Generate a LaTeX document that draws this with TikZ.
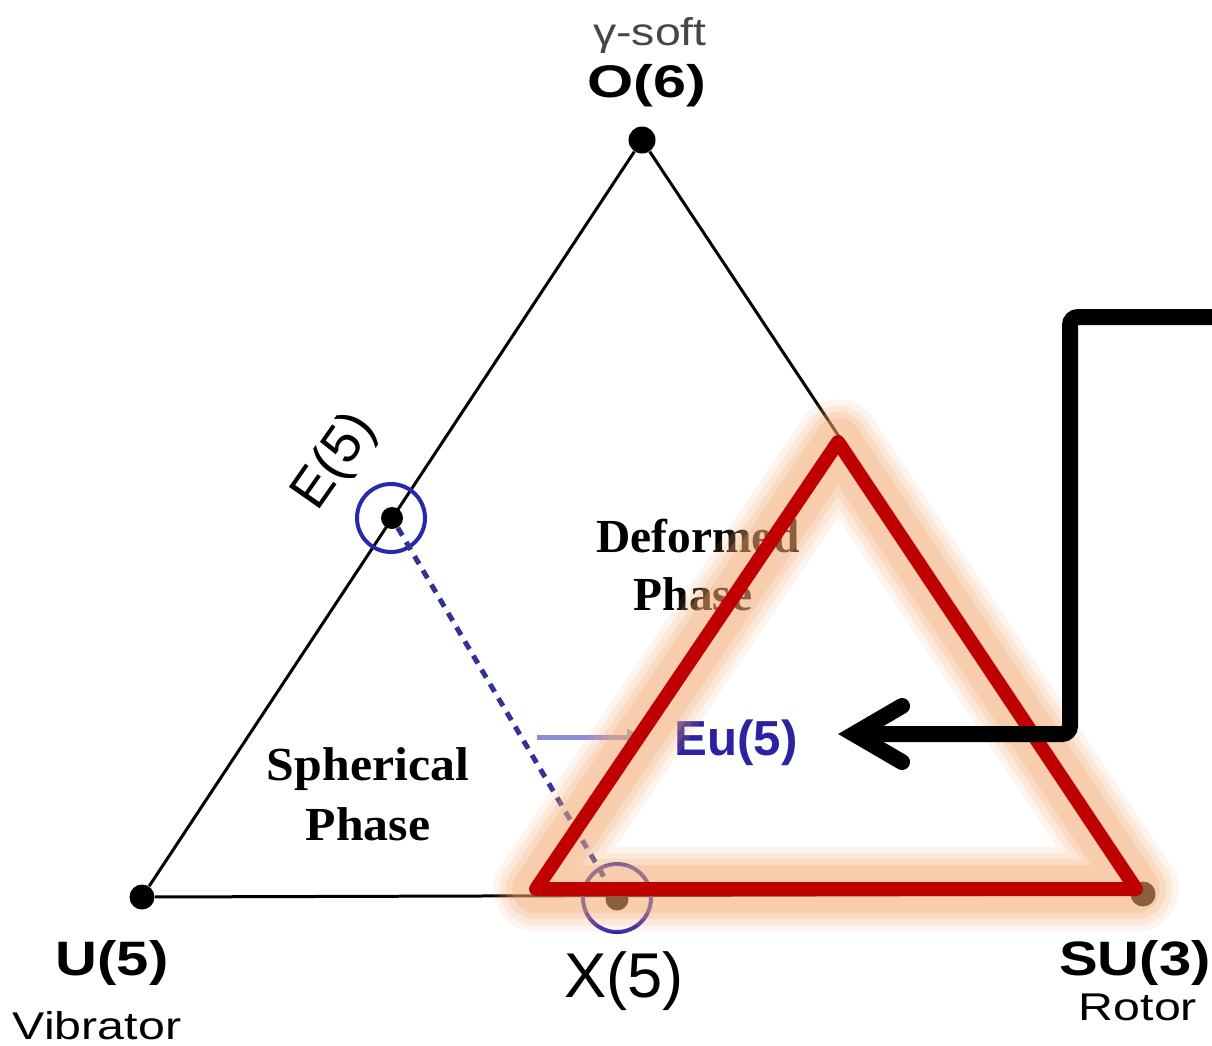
\documentclass[tikz,border=0pt]{standalone}
\usepackage{fontspec}
\setmainfont{Liberation Sans}
\newfontfamily\serifb{Liberation Serif}
\usetikzlibrary{arrows.meta}
\definecolor{cblue}{RGB}{40,40,170}
\definecolor{ctext}{RGB}{45,35,160}
\definecolor{cdash}{RGB}{50,50,150}
\definecolor{clight}{RGB}{140,140,215}
\definecolor{cred}{RGB}{192,0,0}
\definecolor{cglow}{RGB}{246,170,115}
\definecolor{cgray}{RGB}{70,70,70}
\tikzset{
  dotnode/.style={circle, fill=black, inner sep=0pt, minimum size=#1},
  dotnode/.default=0.54cm,
  ringnode/.style={circle, draw=cblue, line width=0.08cm, inner sep=0pt, minimum size=1.36cm},
  triline/.style={line width=0.06cm, black},
  lbl/.style={inner sep=0pt, anchor=base},
  glowline/.style={cglow, line join=round, opacity=#1},
  redline/.style={cred, line width=0.28cm, line join=round},
  bigarrow/.style={black, line width=0.32cm, rounded corners=0.16cm},
  chev/.style={black, line width=0.32cm, line cap=round, line join=miter},
}
\begin{document}
\begin{tikzpicture}[x=0.02cm, y=-0.02cm]
\useasboundingbox (0,0) rectangle (1212,1045);
\clip (0,0) rectangle (1212,1045);
\fill[white] (0,0) rectangle (1212,1045);

% vertices
\node[dotnode] (O) at (642,140) {};
\node[dotnode=0.5cm] (U) at (142,897) {};
\node[dotnode=0.5cm] (SU) at (1143,894) {};
\node[dotnode=0.44cm] (E) at (392,518) {};
\node[dotnode=0.46cm] (X) at (617,899) {};

% triangle
\draw[triline] (O) -- (U);
\draw[triline] (U) -- (SU);
\draw[triline] (SU) -- (O);

% rings
\node[ringnode] (Ering) at (391,518) {};
\node[ringnode] (Xring) at (617,898) {};

% dashed line
\draw[cdash, line width=0.1cm, dash pattern=on 0.18cm off 0.15cm] (E) -- (X);

% labels
\node[lbl, text=cgray, font=\fontsize{22}{26}\selectfont] (gsoft) at (650,45) {\scalebox{1.2}[1]{γ-soft}};
\node[lbl, font=\fontsize{26}{30}\selectfont\bfseries] (Olab) at (647,97) {\scalebox{1.3}[1]{O(6)}};
\node[lbl, font=\fontsize{27.5}{32}\selectfont\bfseries] (Ulab) at (112,975) {\scalebox{1.2}[1]{U(5)}};
\node[lbl, font=\fontsize{22}{26}\selectfont] (Vib) at (97,1039) {\scalebox{1.25}[1]{Vibrator}};
\node[lbl, font=\fontsize{27.5}{32}\selectfont\bfseries] (SUlab) at (1135,975) {\scalebox{1.2}[1]{SU(3)}};
\node[lbl, font=\fontsize{22}{26}\selectfont] (Rot) at (1138,1020) {\scalebox{1.25}[1]{Rotor}};
\node[lbl, font=\fontsize{36}{40}\selectfont] (Xlab) at (624,997) {X(5)};
\node[lbl, font=\fontsize{31}{36}\selectfont, rotate=55] (Elab) at (347,470) {E(5)};
\node[lbl, font=\serifb\fontsize{27}{31}\selectfont\bfseries] (Def) at (698,552) {Deformed};
\node[lbl, font=\serifb\fontsize{27}{31}\selectfont\bfseries] (Ph1) at (693,610) {Phase};
\node[lbl, font=\serifb\fontsize{27}{31}\selectfont\bfseries] (Sph) at (368,780) {\scalebox{1.05}[1]{Spherical}};
\node[lbl, font=\serifb\fontsize{27}{31}\selectfont\bfseries] (Ph2) at (368,840) {\scalebox{1.05}[1]{Phase}};
\node[lbl, text=ctext, font=\fontsize{28}{32}\selectfont\bfseries] (Eu) at (736,755) {Eu(5)};

% short arrow
\coordinate (sa) at (537,737);
\coordinate (sb) at (645,737);
\draw[clight, line width=0.1cm, -{Triangle[length=0.36cm,width=0.3cm]}] (sa) -- (sb);

% glow + red triangle
\coordinate (A) at (838,442);
\coordinate (B) at (536,889);
\coordinate (C) at (1136,889);
\draw[glowline=0.12, line width=1.7cm] (A) -- (B) -- (C) -- cycle;
\draw[glowline=0.16, line width=1.45cm] (A) -- (B) -- (C) -- cycle;
\draw[glowline=0.22, line width=1.2cm] (A) -- (B) -- (C) -- cycle;
\draw[glowline=0.25, line width=0.95cm] (A) -- (B) -- (C) -- cycle;
\draw[redline] (A) -- (B) -- (C) -- cycle;

% black pointer arrow
\coordinate (p0) at (1216,317);
\coordinate (p1) at (1070,317);
\coordinate (p2) at (1070,734);
\coordinate (p3) at (860,734);
\coordinate (tip) at (854,734);
\coordinate (arm1) at (902,706);
\coordinate (arm2) at (902,762);
\draw[bigarrow] (p0) -- (p1) -- (p2) -- (p3);
\draw[chev] (arm1) -- (tip) -- (arm2);
\end{tikzpicture}
\end{document}
